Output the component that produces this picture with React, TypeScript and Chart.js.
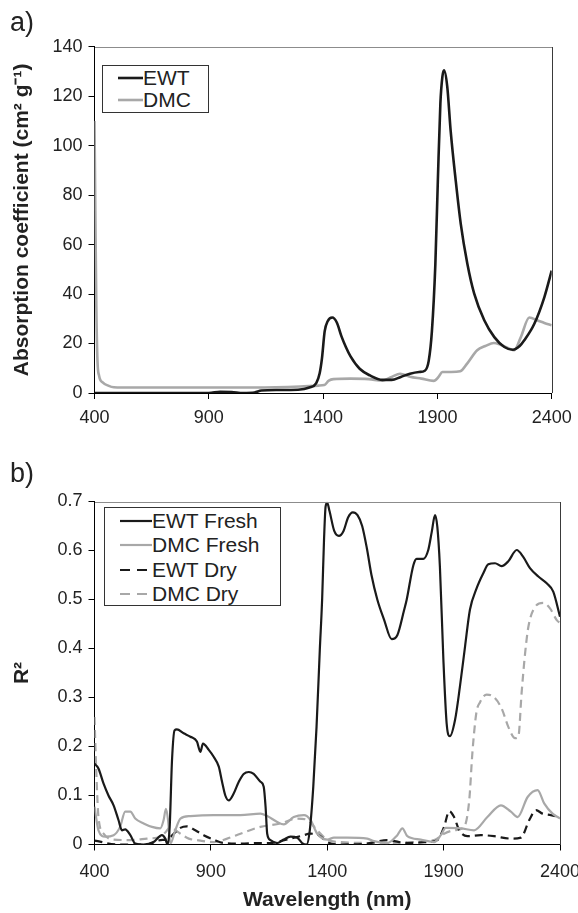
import React, { useEffect, useRef } from "react";
import { Chart, registerables } from "chart.js";
Chart.register(...registerables);

const FONT = '"Liberation Sans", Arial, Helvetica, sans-serif';
const BLACK = "#1a1a1a";
const GREY = "#a8a8a8";

// ---------- shared axis data ----------
const xTicks = [400, 900, 1400, 1900, 2400];
const yTicksA = [0, 20, 40, 60, 80, 100, 120, 140];
const yTicksB = [0, 0.1, 0.2, 0.3, 0.4, 0.5, 0.6, 0.7];
const yTickLabelsB = ["0", "0.1", "0.2", "0.3", "0.4", "0.5", "0.6", "0.7"];

// ---------- panel a ----------
const ewtAbsWl = [400, 600, 900, 950, 1000, 1050, 1100, 1130, 1200, 1290, 1340, 1370, 1385, 1395, 1407, 1420, 1440, 1460, 1480, 1500, 1520, 1560, 1605, 1660, 1700, 1740, 1780, 1820, 1845, 1862, 1876, 1891, 1902, 1913, 1922, 1929, 1943, 1958, 1980, 2002, 2031, 2061, 2105, 2149, 2193, 2230, 2260, 2280, 2324, 2368, 2400];
const ewtAbs = [0, 0, 0, 0.5, 0.4, 0, 0.2, 1.0, 1.2, 1.3, 2.2, 4, 8, 14, 25, 29, 30.5, 28.5, 23, 18.5, 14.8, 9.8, 7.1, 5.3, 5.3, 6.5, 7.8, 8.5, 9.0, 13, 25, 52, 86, 117, 128, 130.5, 124, 106, 86, 68.5, 52.3, 40.2, 29.4, 22.6, 18.6, 17.5, 19, 21.3, 28, 38.8, 49.5];

const dmcAbsWl = [400, 404, 408, 413, 420, 437, 460, 485, 520, 800, 1100, 1300, 1380, 1405, 1425, 1445, 1520, 1600, 1660, 1700, 1737, 1780, 1830, 1884, 1905, 1922, 1960, 2000, 2030, 2074, 2110, 2147, 2176, 2213, 2236, 2265, 2302, 2339, 2368, 2400];
const dmcAbs = [110, 70, 35, 13, 7, 4.2, 3, 2.3, 2.2, 2.2, 2.2, 2.6, 3.0, 3.2, 5.0, 5.6, 5.8, 5.6, 5.0, 6.5, 7.8, 6.6, 5.8, 4.9, 6.5, 8.5, 8.5, 8.8, 11.9, 17.3, 19, 20.2, 19.5, 18, 17.3, 22.6, 30.5, 29.3, 28.3, 27.4];

// ---------- panel b ----------
const ewtFreshWl = [400, 417, 439, 460, 482, 503, 518, 532, 554, 575, 611, 654, 690, 704, 714, 723, 733, 744, 754, 783, 812, 840, 855, 866, 891, 912, 934, 948, 962, 977, 998, 1020, 1041, 1063, 1084, 1113, 1127, 1135, 1142, 1156, 1185, 1213, 1242, 1271, 1292, 1311, 1325, 1340, 1354, 1368, 1378, 1386, 1393, 1400, 1410, 1430, 1450, 1470, 1490, 1510, 1530, 1550, 1570, 1590, 1615, 1644, 1677, 1701, 1730, 1741, 1770, 1784, 1813, 1834, 1849, 1863, 1873, 1884, 1899, 1913, 1927, 1949, 1970, 1992, 2013, 2042, 2070, 2092, 2121, 2149, 2178, 2214, 2242, 2271, 2307, 2343, 2371, 2400];
const ewtFresh = [0.165, 0.155, 0.124, 0.10, 0.08, 0.05, 0.029, 0.031, 0.019, 0.002, 0, 0.005, 0.019, 0.012, 0, 0.036, 0.172, 0.233, 0.235, 0.227, 0.22, 0.21, 0.189, 0.206, 0.193, 0.179, 0.159, 0.128, 0.10, 0.09, 0.104, 0.128, 0.144, 0.148, 0.144, 0.128, 0.118, 0.077, 0.022, 0.009, 0.003, 0.01, 0.016, 0.014, 0.003, 0, 0.029, 0.118, 0.24, 0.397, 0.5, 0.62, 0.69, 0.697, 0.68, 0.64, 0.63, 0.64, 0.668, 0.678, 0.672, 0.65, 0.605, 0.55, 0.5, 0.459, 0.419, 0.427, 0.478, 0.499, 0.57, 0.583, 0.583, 0.601, 0.638, 0.672, 0.648, 0.567, 0.377, 0.247, 0.221, 0.254, 0.322, 0.404, 0.479, 0.523, 0.553, 0.572, 0.574, 0.568, 0.578, 0.601, 0.587, 0.564, 0.547, 0.533, 0.516, 0.465];

const dmcFreshWl = [400, 417, 446, 482, 510, 532, 554, 575, 611, 647, 683, 697, 707, 716, 726, 747, 769, 812, 912, 1027, 1113, 1142, 1185, 1213, 1256, 1300, 1328, 1357, 1400, 1429, 1486, 1572, 1601, 1658, 1701, 1723, 1744, 1802, 1859, 1888, 1909, 1974, 2031, 2088, 2146, 2189, 2218, 2261, 2304, 2332, 2368, 2400];
const dmcFresh = [0.077, 0.029, 0.016, 0.019, 0.036, 0.067, 0.067, 0.053, 0.043, 0.036, 0.033, 0.05, 0.073, 0.05, 0.002, 0.029, 0.053, 0.058, 0.06, 0.06, 0.063, 0.058, 0.046, 0.041, 0.056, 0.06, 0.05, 0.022, 0.01, 0.014, 0.014, 0.012, 0.007, 0.003, 0.019, 0.033, 0.017, 0.01, 0.005, 0.019, 0.034, 0.033, 0.029, 0.056, 0.08, 0.067, 0.056, 0.097, 0.111, 0.084, 0.063, 0.053];

const ewtDryWl = [400, 500, 625, 683, 711, 740, 769, 797, 833, 869, 912, 955, 1027, 1113, 1156, 1199, 1242, 1285, 1328, 1364, 1400, 1457, 1572, 1658, 1744, 1830, 1873, 1902, 1924, 1945, 1967, 2002, 2060, 2117, 2189, 2232, 2268, 2297, 2325, 2361, 2400];
const ewtDry = [0.008, 0, 0, 0.009, 0.01, 0.022, 0.034, 0.037, 0.029, 0.019, 0.01, 0.003, 0.002, 0.003, 0.003, 0.007, 0.012, 0.017, 0.022, 0.019, 0.005, 0, 0.002, 0.009, 0.003, 0.005, 0.009, 0.036, 0.068, 0.056, 0.029, 0.017, 0.019, 0.017, 0.012, 0.014, 0.05, 0.07, 0.063, 0.06, 0.056];

const dmcDryWl = [400, 407, 417, 439, 482, 554, 625, 683, 705, 725, 745, 769, 805, 840, 912, 970, 1027, 1113, 1199, 1271, 1314, 1357, 1400, 1457, 1629, 1773, 1859, 1902, 1945, 1988, 2010, 2024, 2041, 2056, 2085, 2113, 2149, 2178, 2207, 2221, 2235, 2250, 2264, 2293, 2328, 2357, 2386, 2400];
const dmcDry = [0.26, 0.158, 0.056, 0.022, 0.01, 0.009, 0.012, 0.016, 0.025, 0.035, 0.03, 0.022, 0.012, 0.009, 0.005, 0.012, 0.022, 0.036, 0.043, 0.053, 0.05, 0.029, 0.01, 0.005, 0.003, 0.005, 0.009, 0.022, 0.029, 0.036, 0.09, 0.19, 0.27, 0.29, 0.306, 0.302, 0.278, 0.24, 0.217, 0.22, 0.309, 0.39, 0.444, 0.485, 0.493, 0.482, 0.458, 0.452];

const pts = (xs: number[], ys: number[]) => xs.map((x, i) => ({ x, y: ys[i] }));

const framePlugin = {
  id: "frame",
  afterDraw(chart: any) {
    const { ctx, chartArea: a } = chart;
    ctx.save();
    ctx.lineWidth = 1;
    ctx.strokeStyle = "#8c8c8c";
    ctx.beginPath();
    ctx.moveTo(Math.round(a.left), Math.round(a.top) + 0.5);
    ctx.lineTo(Math.round(a.right), Math.round(a.top) + 0.5);
    ctx.stroke();
    ctx.strokeStyle = "#3a3a3a";
    ctx.beginPath();
    ctx.moveTo(Math.round(a.right) + 0.5, Math.round(a.top));
    ctx.lineTo(Math.round(a.right) + 0.5, Math.round(a.bottom));
    ctx.stroke();
    ctx.restore();
  },
};

type Geo = { w: number; h: number; left: number; right: number; top: number; bottom: number; xPad: number };

function makeConfig(datasets: any[], yTicks: number[], yLabels: string[] | null, yTitle: string, xTitle: string | null, g: Geo) {
  const tickFont = { family: FONT, size: 18 };
  return {
    type: "line",
    data: { datasets },
    plugins: [framePlugin],
    options: {
      animation: false,
      responsive: false,
      devicePixelRatio: 1,
      layout: { padding: { left: 0, top: g.top, right: g.w - g.right, bottom: 0 } },
      plugins: { legend: { display: false }, tooltip: { enabled: false } },
      elements: { point: { radius: 0 }, line: { cubicInterpolationMode: "monotone" } },
      scales: {
        x: {
          type: "linear",
          min: 400,
          max: 2400,
          afterBuildTicks: (s: any) => { s.ticks = xTicks.map((v) => ({ value: v })); },
          afterFit: (s: any) => { s.height = g.h - g.bottom; s.paddingLeft = 0; s.paddingRight = 0; },
          ticks: { font: tickFont, color: "#222", padding: g.xPad, maxRotation: 0, autoSkip: false, callback: (v: any) => String(v) },
          grid: { display: true, drawOnChartArea: false, drawTicks: true, tickLength: 6, color: "#000", lineWidth: 1 },
          border: { display: true, color: "#000", width: 1 },
          title: xTitle
            ? { display: true, text: xTitle, color: "#222", font: { family: FONT, size: 21, weight: "bold" }, padding: { top: 0, bottom: 0 } }
            : { display: false },
        },
        y: {
          type: "linear",
          min: yTicks[0],
          max: yTicks[yTicks.length - 1],
          afterBuildTicks: (s: any) => { s.ticks = yTicks.map((v) => ({ value: v })); },
          afterFit: (s: any) => { s.width = g.left; s.paddingTop = 0; s.paddingBottom = 0; },
          ticks: {
            font: tickFont, color: "#222", padding: 6, autoSkip: false,
            callback: (v: any) => { const i = yTicks.indexOf(v); return yLabels && i >= 0 ? yLabels[i] : String(v); },
          },
          grid: { display: true, drawOnChartArea: false, drawTicks: true, tickLength: 6, color: "#000", lineWidth: 1 },
          border: { display: true, color: "#000", width: 1 },
          title: { display: true, text: yTitle, color: "#222", font: { family: FONT, size: 21, weight: "bold" }, padding: { top: 10, bottom: 0 } },
        },
      },
    },
  };
}

function ChartCanvas({ config, w, h, top }: { config: any; w: number; h: number; top: number }) {
  const ref = useRef<HTMLCanvasElement>(null);
  useEffect(() => {
    if (!ref.current) return;
    const c = new Chart(ref.current, config);
    return () => c.destroy();
  }, []);
  return <canvas ref={ref} width={w} height={h} style={{ position: "absolute", left: 0, top, width: w, height: h }} />;
}

type LegItem = { label: string; color: string; dash: string | null };

function Legend({ items, left, top, width, height, rowH, padTop, sampleLeft, sampleW, lw }: any) {
  return (
    <div style={{ position: "absolute", left, top, width, height, boxSizing: "border-box", border: "1px solid #333", background: "#fff", paddingTop: padTop }}>
      {(items as LegItem[]).map((it) => (
        <div key={it.label} style={{ display: "flex", alignItems: "center", height: rowH, lineHeight: rowH + "px", fontFamily: FONT, fontSize: 21, color: "#222", whiteSpace: "nowrap" }}>
          <svg width={sampleW} height={6} style={{ marginLeft: sampleLeft, flex: "none" }}>
            <line x1={0} y1={3} x2={sampleW} y2={3} stroke={it.color} strokeWidth={lw} strokeDasharray={it.dash || undefined} />
          </svg>
          <span>{it.label}</span>
        </div>
      ))}
    </div>
  );
}

export default function App() {
  const W = 578;
  const geoA: Geo = { w: W, h: 450, left: 94.5, right: 551.7, top: 46.7, bottom: 393, xPad: 8 };
  const geoB: Geo = { w: W, h: 463, left: 94.5, right: 560, top: 51.5, bottom: 394.5, xPad: 11 };

  const dsA = [
    { label: "EWT", data: pts(ewtAbsWl, ewtAbs), borderColor: BLACK, borderWidth: 2.6, fill: false },
    { label: "DMC", data: pts(dmcAbsWl, dmcAbs), borderColor: GREY, borderWidth: 2.6, fill: false },
  ];
  const dsB = [
    { label: "EWT Fresh", data: pts(ewtFreshWl, ewtFresh), borderColor: BLACK, borderWidth: 2.2, fill: false },
    { label: "DMC Fresh", data: pts(dmcFreshWl, dmcFresh), borderColor: GREY, borderWidth: 2.2, fill: false },
    { label: "EWT Dry", data: pts(ewtDryWl, ewtDry), borderColor: BLACK, borderWidth: 2.2, borderDash: [8, 5], fill: false },
    { label: "DMC Dry", data: pts(dmcDryWl, dmcDry), borderColor: GREY, borderWidth: 2.2, borderDash: [8, 5], fill: false },
  ];

  const cfgA = makeConfig(dsA, yTicksA, null, "Absorption coefficient (cm² g⁻¹)", null, geoA);
  const cfgB = makeConfig(dsB, yTicksB, yTickLabelsB, "R²", "Wavelength (nm)", geoB);

  const legA: LegItem[] = [
    { label: "EWT", color: BLACK, dash: null },
    { label: "DMC", color: GREY, dash: null },
  ];
  const legB: LegItem[] = [
    { label: "EWT Fresh", color: BLACK, dash: null },
    { label: "DMC Fresh", color: GREY, dash: null },
    { label: "EWT Dry", color: BLACK, dash: "10 7" },
    { label: "DMC Dry", color: GREY, dash: "10 7" },
  ];

  const panelLabel = { position: "absolute" as const, left: 10, fontFamily: FONT, fontSize: 27, lineHeight: 1, color: "#222" };

  return (
    <div style={{ position: "absolute", left: 0, top: 0, width: W, height: 913, background: "#fff", overflow: "hidden" }}>
      <ChartCanvas config={cfgA} w={W} h={450} top={0} />
      <ChartCanvas config={cfgB} w={W} h={463} top={450} />
      <div style={{ ...panelLabel, top: 9 }}>a)</div>
      <div style={{ ...panelLabel, top: 460 }}>b)</div>
      <Legend items={legA} left={101.7} top={65} width={107.3} height={48} rowH={22.3} padTop={1} sampleLeft={15.3} sampleW={25} lw={2.6} />
      <Legend items={legB} left={104} top={506.7} width={177} height={99} rowH={24.4} padTop={1.1} sampleLeft={15} sampleW={32} lw={2.2} />
    </div>
  );
}
